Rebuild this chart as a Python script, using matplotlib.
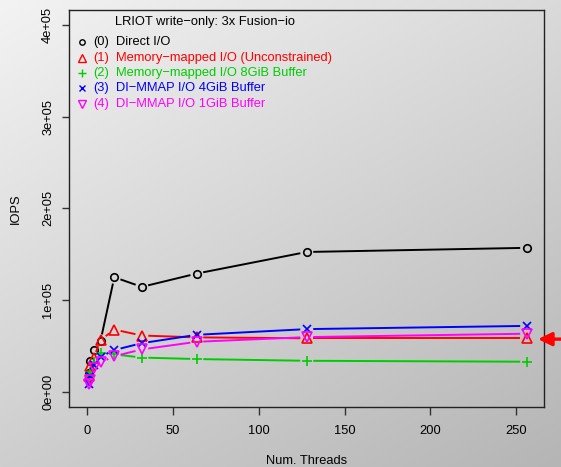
import numpy as np
import matplotlib
matplotlib.use("Agg")
import matplotlib.pyplot as plt

threads = [1, 2, 4, 8, 16, 32, 64, 128, 256]
direct_io = [21000, 34000, 45500, 55800, 125000, 114500, 129000, 152500, 157000]
mmap_unconstrained = [17000, 28000, 37000, 56500, 68000, 61500, 59500, 58500, 58500]
mmap_8gib = [17000, 22000, 33000, 43000, 41000, 37500, 35900, 34000, 33000]
dimmap_4gib = [9000, 17000, 29000, 38500, 45700, 53200, 62300, 68500, 72000]
dimmap_1gib = [8500, 13000, 26000, 32200, 39000, 46400, 54700, 59800, 63500]

series_values = [direct_io, mmap_unconstrained, mmap_8gib, dimmap_4gib, dimmap_1gib]
series_labels = ["Direct I/O", "Memory\u2212mapped I/O (Unconstrained)",
                 "Memory\u2212mapped I/O 8GiB Buffer", "DI\u2212MMAP I/O 4GiB Buffer",
                 "DI\u2212MMAP I/O 1GiB Buffer"]
series_ids = ["(0)", "(1)", "(2)", "(3)", "(4)"]
legend_title = "LRIOT write\u2212only: 3x Fusion\u2212io"
x_ticks = [0, 50, 100, 150, 200, 250]
y_ticks = [0, 100000, 200000, 300000, 400000]
y_tick_labels = ["0e+00", "1e+05", "2e+05", "3e+05", "4e+05"]

colors = ["#000000", "#FF0000", "#00CD00", "#0000FF", "#FF00FF"]
markers = ["o", "^", "+", "x", "v"]
msizes = [5.4, 7.2, 7.2, 5.4, 7.2]

plt.rcParams['font.family'] = ['Liberation Sans', 'DejaVu Sans']
FS = 9.3

fig = plt.figure(figsize=(5.61, 4.67), dpi=100)

# gradient background
bg = fig.add_axes([0, 0, 1, 1])
xf = np.linspace(0, 1, 300)[None, :]
yf = np.linspace(0, 1, 300)[:, None]
v = (243 - 25 * xf - 37 * yf) / 255.0
img = np.dstack([v, v, v])
bg.imshow(img, aspect='auto', extent=[0, 1, 0, 1], origin='upper')
bg.set_axis_off()

ax = fig.add_axes([0.1235, 0.1291, 0.8462, 0.8495])
ax.set_facecolor('none')
ax.set_xlim(-10.2, 266.1)
ax.set_ylim(-16000, 416000)

for s in ax.spines.values():
    s.set_linewidth(1.0)
    s.set_color('#222222')

ax.set_xticks(x_ticks)
ax.set_xticklabels([str(t) for t in x_ticks], fontsize=FS)
ax.set_yticks(y_ticks)
ax.set_yticklabels(y_tick_labels, fontsize=FS, rotation=90, va='center')
ax.tick_params(axis='both', direction='out', length=5.4, width=1.0, color='#333333')
ax.tick_params(axis='x', pad=7.5)
ax.tick_params(axis='y', pad=5.5)
ax.set_xlabel("Num. Threads", fontsize=FS, labelpad=13.2)
ax.set_ylabel("IOPS", fontsize=FS, labelpad=14.5)

fig.canvas.draw()
GAP = 6.5  # pixels, R type="b" gaps
trans = ax.transData
inv = trans.inverted()

for vals, c, m, ms in zip(series_values, colors, markers, msizes):
    pts = trans.transform(np.column_stack([threads, vals]))
    for i in range(len(pts) - 1):
        p0, p1 = pts[i], pts[i + 1]
        d = p1 - p0
        L = np.hypot(*d)
        if L <= 2 * GAP:
            continue
        u = d / L
        a = inv.transform(p0 + u * GAP)
        b = inv.transform(p1 - u * GAP)
        ax.plot([a[0], b[0]], [a[1], b[1]], color=c, lw=1.4, solid_capstyle='butt')
    ax.plot(threads, vals, linestyle='none', marker=m, ms=ms, mfc='none',
            mec=c, mew=1.2)

# legend (R style, no box)
ax.text(0.285, 0.9705, legend_title, transform=ax.transAxes, fontsize=FS,
        ha='center', va='center', color='black')
row_y = [0.920, 0.880, 0.842, 0.803, 0.764]
for y, c, m, ms, sid, lab in zip(row_y, colors, markers, msizes, series_ids, series_labels):
    ax.plot([0.026], [y], transform=ax.transAxes, marker=m, ms=ms * 0.72,
            mfc='none', mec=c, mew=1.0, linestyle='none', clip_on=False)
    ax.text(0.050, y, sid, transform=ax.transAxes, fontsize=FS, ha='left',
            va='center', color=c)
    ax.text(0.0975, y, lab, transform=ax.transAxes, fontsize=FS, ha='left',
            va='center', color=c)

# red arrow annotation pointing at series (1) end
ax.annotate('', xy=(262.6, 57600), xycoords='data',
            xytext=(1.0, 57600), textcoords=('figure fraction', 'data'),
            arrowprops=dict(arrowstyle='-|>,head_length=0.45,head_width=0.22',
                            mutation_scale=18, color='#FF0000', lw=2.4,
                            shrinkA=0, shrinkB=0),
            annotation_clip=False)

fig.savefig("out.png", dpi=100)
